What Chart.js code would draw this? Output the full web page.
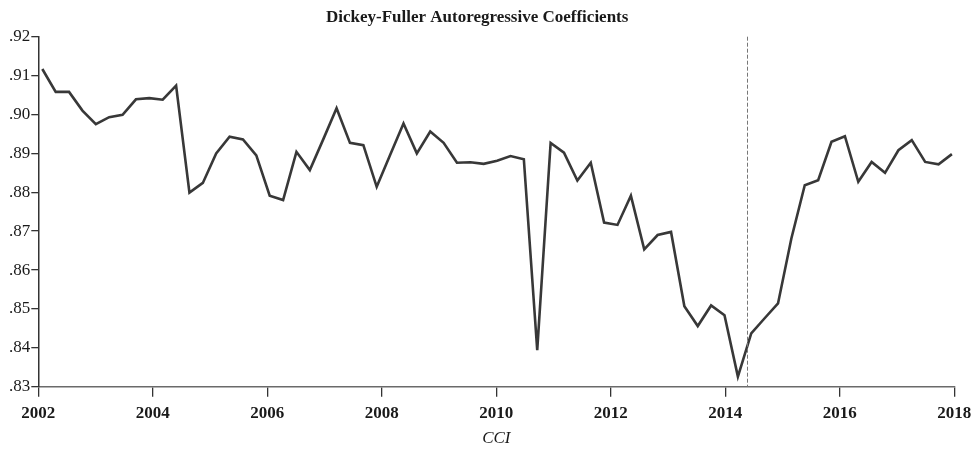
<!DOCTYPE html>
<html>
<head>
<meta charset="utf-8">
<script src="https://cdn.jsdelivr.net/npm/chart.js@4/dist/chart.umd.min.js"></script>
<style>
  html, body { margin: 0; padding: 0; background: #fff; }
  #wrap { width: 976px; height: 449px; }
</style>
</head>
<body>
<div id="wrap"><canvas id="chart" width="976" height="449"></canvas></div>
<script>
// Sample dates (decimal years) of each estimation window
const sampleDates = [
  2002.070, 2002.304, 2002.537, 2002.771, 2003.005, 2003.238, 2003.472, 2003.706,
  2003.939, 2004.173, 2004.407, 2004.640, 2004.874, 2005.107, 2005.341, 2005.575,
  2005.808, 2006.042, 2006.276, 2006.509, 2006.743, 2006.977, 2007.210, 2007.444,
  2007.678, 2007.911, 2008.145, 2008.379, 2008.612, 2008.846, 2009.080, 2009.313,
  2009.547, 2009.780, 2010.014, 2010.248, 2010.481, 2010.715, 2010.949, 2011.182,
  2011.416, 2011.650, 2011.883, 2012.117, 2012.351, 2012.584, 2012.818, 2013.052,
  2013.285, 2013.519, 2013.752, 2013.986, 2014.220, 2014.453, 2014.687, 2014.921,
  2015.154, 2015.388, 2015.622, 2015.855, 2016.089, 2016.323, 2016.556, 2016.790,
  2017.024, 2017.257, 2017.491, 2017.725, 2017.958
];

// Dickey-Fuller autoregressive coefficient for CCI
const dfCoefficients = [
  0.9117, 0.9058, 0.9058, 0.9010, 0.8975, 0.8993, 0.8999, 0.9039,
  0.9042, 0.9038, 0.9074, 0.8799, 0.8824, 0.8900, 0.8943, 0.8936,
  0.8895, 0.8791, 0.8780, 0.8904, 0.8857, 0.8936, 0.9016, 0.8927,
  0.8921, 0.8814, 0.8896, 0.8977, 0.8900, 0.8956, 0.8927, 0.8876,
  0.8877, 0.8873, 0.8881, 0.8893, 0.8885, 0.8394, 0.8927, 0.8902,
  0.8830, 0.8876, 0.8722, 0.8716, 0.8791, 0.8653, 0.8690, 0.8698,
  0.8507, 0.8456, 0.8509, 0.8484, 0.8326, 0.8437, 0.8476, 0.8514,
  0.8681, 0.8818, 0.8831, 0.8930, 0.8944, 0.8827, 0.8878, 0.8850,
  0.8908, 0.8934, 0.8878, 0.8872, 0.8898
];

// Axis ticks
const yearTicks = [2002, 2004, 2006, 2008, 2010, 2012, 2014, 2016, 2018];
const coefTicks = [0.83, 0.84, 0.85, 0.86, 0.87, 0.88, 0.89, 0.90, 0.91, 0.92];

// Date of the structural break marker
const breakDate = 2014.385;

const points = sampleDates.map((d, i) => ({ x: d, y: dfCoefficients[i] }));

const SERIF = "'Liberation Serif', 'Times New Roman', serif";
const INK = '#333333';

// Dashed vertical marker at the break date
const breakLine = {
  id: 'breakLine',
  afterDatasetsDraw(chart) {
    const { ctx, chartArea, scales } = chart;
    const x = Math.round(scales.x.getPixelForValue(breakDate)) + 0.5;
    ctx.save();
    ctx.strokeStyle = '#777777';
    ctx.lineWidth = 1;
    ctx.setLineDash([4, 2]);
    ctx.beginPath();
    ctx.moveTo(x, chartArea.top);
    ctx.lineTo(x, chartArea.bottom);
    ctx.stroke();
    ctx.restore();
  }
};

new Chart(document.getElementById('chart'), {
  type: 'line',
  data: {
    datasets: [{
      data: points,
      borderColor: '#383838',
      borderWidth: 2.6,
      pointRadius: 0,
      tension: 0,
      fill: false
    }]
  },
  options: {
    responsive: false,
    animation: false,
    events: [],
    layout: { padding: { left: 0, right: 21.7, top: 0, bottom: 0 } },
    plugins: {
      legend: { display: false },
      tooltip: { enabled: false },
      title: {
        display: true,
        text: 'Dickey-Fuller Autoregressive Coefficients',
        color: '#1a1a1a',
        font: { family: SERIF, size: 17, weight: 'bold', lineHeight: 1.2 },
        padding: { top: 7.3, bottom: 9 }
      }
    },
    scales: {
      x: {
        type: 'linear',
        min: yearTicks[0],
        max: yearTicks[yearTicks.length - 1],
        afterBuildTicks(scale) { scale.ticks = yearTicks.map(v => ({ value: v })); },
        afterFit(scale) {
          scale.height = 62.3;
          scale.paddingLeft = 0;
          scale.paddingRight = 0;
        },
        border: { display: true, color: '#6a6a6a', width: 1.5 },
        grid: { display: true, drawOnChartArea: false, drawTicks: true, tickLength: 10, color: INK, lineWidth: 1.3 },
        ticks: {
          padding: 7,
          color: '#1a1a1a',
          font: { family: SERIF, size: 17, weight: 'bold' },
          maxRotation: 0,
          autoSkip: false,
          callback: v => String(v)
        },
        title: {
          display: true,
          text: 'CCI',
          color: '#1a1a1a',
          font: { family: SERIF, size: 17, style: 'italic' },
          padding: { top: 0, bottom: 0 }
        }
      },
      y: {
        type: 'linear',
        min: coefTicks[0],
        max: coefTicks[coefTicks.length - 1],
        afterBuildTicks(scale) { scale.ticks = coefTicks.map(v => ({ value: v })); },
        afterFit(scale) { scale.width = 38.3; },
        border: { display: true, color: INK, width: 1.5 },
        grid: { display: true, drawOnChartArea: false, drawTicks: true, tickLength: 7, color: INK, lineWidth: 1.3 },
        ticks: {
          padding: 1,
          color: '#1a1a1a',
          font: { family: SERIF, size: 17 },
          autoSkip: false,
          callback: v => v.toFixed(2).replace(/^0/, '')
        }
      }
    }
  },
  plugins: [breakLine]
});
</script>
</body>
</html>
